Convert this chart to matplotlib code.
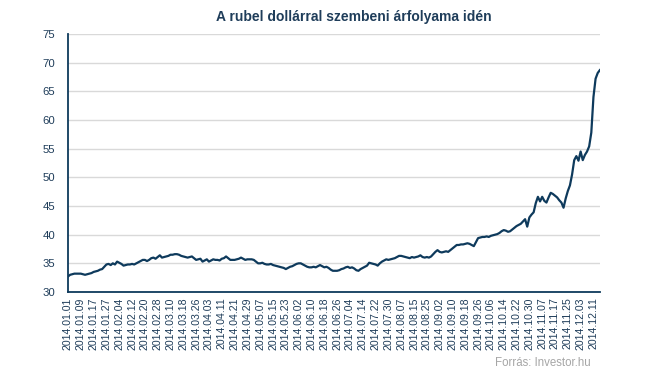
import pandas as pd
import matplotlib
matplotlib.use("Agg")
import matplotlib.pyplot as plt

# USD/RUB napi árfolyam 2014-ben, munkanaponként
jan = [32.7, 33.0, 33.1, 33.2, 33.2, 33.2, 33.2, 33.1, 33.0, 33.1, 33.2, 33.3,
       33.5, 33.6, 33.7, 33.9, 34.0, 34.4, 34.8, 34.9, 34.7, 35.0, 34.8]
feb = [35.3, 35.1, 34.9, 34.6, 34.7, 34.8, 34.8, 34.9, 34.8, 35.0, 35.2, 35.4,
       35.6, 35.6, 35.4, 35.6, 35.9, 36.0, 35.8, 36.1]
mar = [36.4, 36.0, 36.1, 36.2, 36.3, 36.5, 36.5, 36.6, 36.6, 36.5, 36.3, 36.2,
       36.1, 36.0, 36.1, 36.2, 35.9, 35.6, 35.7, 35.8, 35.3]
apr = [35.5, 35.7, 35.3, 35.5, 35.7, 35.6, 35.6, 35.5, 35.8, 35.9, 36.2, 35.9,
       35.6, 35.6, 35.6, 35.7, 35.8, 36.0, 35.8, 35.6, 35.7, 35.7]
may = [35.7, 35.6, 35.3, 35.0, 35.0, 35.1, 34.9, 34.8, 34.8, 34.9, 34.7, 34.6,
       34.5, 34.4, 34.3, 34.2, 34.0, 34.2, 34.4, 34.5, 34.7, 34.9]
jun = [35.0, 35.0, 34.8, 34.6, 34.4, 34.3, 34.3, 34.4, 34.3, 34.5, 34.7, 34.5,
       34.3, 34.4, 34.2, 33.9, 33.7, 33.7, 33.7, 33.8, 34.0]
jul = [34.1, 34.3, 34.4, 34.2, 34.3, 34.1, 33.8, 33.7, 34.0, 34.2, 34.4, 34.6,
       35.1, 35.0, 34.9, 34.8, 34.6, 35.0, 35.3, 35.5, 35.7, 35.6, 35.7]
aug = [35.8, 35.9, 36.1, 36.3, 36.3, 36.2, 36.1, 36.0, 35.9, 36.1, 36.0, 36.1,
       36.2, 36.4, 36.1, 36.0, 36.1, 36.0, 36.2, 36.6, 37.0]
sep = [37.3, 37.0, 36.9, 37.0, 37.1, 37.0, 37.3, 37.6, 37.9, 38.2, 38.2, 38.3,
       38.3, 38.4, 38.5, 38.4, 38.2, 38.0, 38.7, 39.4, 39.5, 39.6]
okt = [39.6, 39.7, 39.6, 39.8, 39.9, 40.0, 40.1, 40.3, 40.6, 40.8, 40.7, 40.5,
       40.6, 40.9, 41.2, 41.5, 41.7, 41.9, 42.3, 42.7, 41.4, 43.0, 43.5]
nov = [43.9, 45.5, 46.6, 45.8, 46.6, 45.9, 45.6, 46.5, 47.3, 47.1, 46.8, 46.5,
       46.0, 45.6, 44.7, 46.3, 47.6, 48.6, 50.5, 53.0]
dec = [53.7, 52.9, 54.5, 53.0, 53.9, 54.5, 55.4, 57.8, 64.0, 67.2, 68.2, 68.7]

rates = jan + feb + mar + apr + may + jun + jul + aug + sep + okt + nov + dec
dates = pd.bdate_range("2014-01-01", "2014-12-16")
labels = [d.strftime("%Y.%m.%d") for d in dates]

navy = "#0e3a5c"
text_col = "#1f3d5a"

fig = plt.figure(figsize=(6.45, 3.76), dpi=100)
ax = fig.add_axes([0.1054, 0.2234, 0.8246, 0.6862])

x = range(len(rates))
ax.plot(x, rates, color=navy, linewidth=1.6, solid_joinstyle="round")

ax.set_ylim(30, 75)
ax.set_yticks(range(30, 80, 5))
ax.set_xlim(0, len(rates) - 1)
ticks = list(range(0, len(rates), 6))
ax.set_xticks(ticks)
ax.set_xticklabels([labels[i] for i in ticks], rotation=90)

ax.grid(axis="y", color="#d9d9d9", linewidth=1)
ax.set_axisbelow(True)
for s in ["top", "right"]:
    ax.spines[s].set_visible(False)
for s in ["left", "bottom"]:
    ax.spines[s].set_color(navy)
    ax.spines[s].set_linewidth(1.3)
ax.tick_params(length=0, colors=text_col)
ax.tick_params(axis="x", pad=4)
ax.tick_params(axis="y", pad=9)
for lab in ax.get_xticklabels():
    lab.set_fontfamily("Liberation Sans")
    lab.set_fontsize(7.6)
for lab in ax.get_yticklabels():
    lab.set_fontfamily("Liberation Sans")
    lab.set_fontsize(8.2)

fig.text(0.549, 0.955, "A rubel dollárral szembeni árfolyama idén",
         ha="center", va="center", fontsize=10, fontweight="bold",
         color=text_col, family="Liberation Sans")
fig.text(0.915, 0.035, "Forrás: Investor.hu", ha="right", va="center",
         fontsize=8.3, color="#a6a6a6", family="Liberation Sans")

fig.savefig("out.png", dpi=100)
